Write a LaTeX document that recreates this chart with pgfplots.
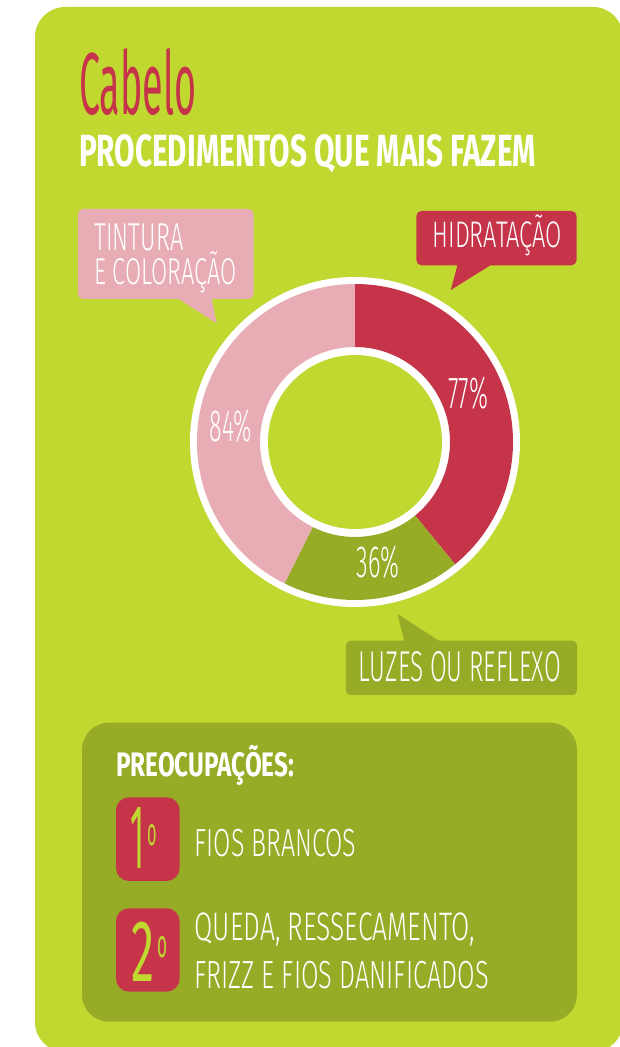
\documentclass[border=0pt]{standalone}
\usepackage{fontspec}
\setmainfont{Fira Sans}
\newfontfamily\fl{Fira Sans Light}
\usepackage{graphicx}
\usepackage{pgfplots}
\pgfplotsset{compat=1.18}
\usepackage{pgfplotstable}

\definecolor{lime}{HTML}{C0D830}
\definecolor{dgreen}{HTML}{97AB26}
\definecolor{cred}{HTML}{C6344A}
\definecolor{cpink}{HTML}{E8ADB4}

\pgfplotstableread{
label value
Hidratacao 77
Luzes 36
Tintura 84
}\donutdata

\pgfplotstablegetelem{0}{value}\of\donutdata \let\vA\pgfplotsretval
\pgfplotstablegetelem{1}{value}\of\donutdata \let\vB\pgfplotsretval
\pgfplotstablegetelem{2}{value}\of\donutdata \let\vC\pgfplotsretval
\pgfmathsetmacro\tot{\vA+\vB+\vC}
\pgfmathsetmacro\aA{90}
\pgfmathsetmacro\aB{90-(\vA/\tot)*360}
\pgfmathsetmacro\aC{\aB-(\vB/\tot)*360}
\pgfmathsetmacro\aD{\aC-(\vC/\tot)*360}

\newcommand\sector[3]{%
  \fill[#1] (axis cs:{158*cos(#2)},{158*sin(#2)}) arc[start angle=#2, end angle=#3, radius=158bp]
    -- (axis cs:{95*cos(#3)},{95*sin(#3)}) arc[start angle=#3, end angle=#2, radius=95bp] -- cycle;}

\newcommand\Tx[6]{\node[anchor=base west, inner sep=0pt, outer sep=0pt, text=#1] at (#2,1047-#3) {\resizebox{#4bp}{#5bp}{#6}};}
\newcommand\Txh[6]{\node[anchor=base west, inner sep=0pt, outer sep=0pt, text=#1] at (#2,1047-#3) {\resizebox{#4bp}{\height}{\fontsize{#5bp}{#5bp}\selectfont #6}};}

\begin{document}
\begin{tikzpicture}[x=1bp, y=1bp]
\useasboundingbox (0,0) rectangle (620,1047);
\clip (0,0) rectangle (620,1047);
\fill[white] (0,0) rectangle (620,1047);
% main panel
\fill[lime, rounded corners=30bp] (35,1047-1052) rectangle (623,1047-7);
% callouts
\fill[cpink, rounded corners=5bp] (78,1047-299) rectangle (253.5,1047-209);
\fill[cpink] (177,1047-298) -- (211.5,1047-298) -- (216.7,1047-323.3) -- cycle;
\fill[cred, rounded corners=5bp] (416.4,1047-265.3) rectangle (576.5,1047-211);
\fill[cred] (457.7,1047-264.3) -- (492,1047-264.3) -- (450.8,1047-290) -- cycle;
\fill[dgreen, rounded corners=5bp] (345.8,1047-695) rectangle (577.2,1047-640.7);
\fill[dgreen] (404.4,1047-641.7) -- (440.5,1047-641.7) -- (397.5,1047-614) -- cycle;
% bottom panel
\fill[dgreen, rounded corners=27bp] (82,1047-1021.7) rectangle (577,1047-722.7);
\fill[cred, rounded corners=13bp] (116,1047-881) rectangle (179.6,1047-797.3);
\fill[cred, rounded corners=13bp] (116,1047-991.7) rectangle (179.6,1047-908.3);

% donut
\begin{axis}[at={(355,1047-442)}, anchor=center, width=340bp, height=340bp,
  scale only axis, xmin=-170, xmax=170, ymin=-170, ymax=170, hide axis, clip=false]
\addplot[draw=none, forget plot] coordinates {(0,0)};
\fill[white] (axis cs:0,0) circle[radius=165bp];
\sector{cred}{\aA}{\aB}
\sector{dgreen}{\aB}{\aC}
\sector{cpink}{\aC}{\aD}
\fill[lime] (axis cs:0,0) circle[radius=87bp];
\end{axis}

% texts
\Tx{cred}{79}{114.3}{117}{66}{Cabelo}
\Tx{white}{79}{167}{457}{32}{\bfseries PROCEDIMENTOS QUE MAIS FAZEM}
\Tx{white}{94.4}{251}{89}{26.7}{\fl TINTURA}
\Txh{white}{94.4}{285}{142}{37.3}{\fl E COLORAÇÃO}
\Txh{white}{432.6}{248}{129.4}{37}{\fl HIDRATAÇÃO}
\Tx{white}{358.9}{681.7}{202}{30}{\fl LUZES OU REFLEXO}
\Tx{white}{448.4}{408.3}{40}{31.6}{\fl 77\%}
\Tx{white}{209.8}{441.7}{42}{31.7}{\fl 84\%}
\Tx{white}{356.8}{577.7}{43}{31.7}{\fl 36\%}
\Txh{white}{116}{776.7}{178}{34}{\bfseries PREOCUPAÇÕES:}
\Tx{lime}{130}{869}{14}{61}{1}
\Tx{lime}{147}{846}{9.5}{21}{o}
\Tx{white}{194.6}{856.7}{161.8}{27.3}{\fl FIOS BRANCOS}
\Tx{lime}{131}{981.5}{23}{59.5}{2}
\Tx{lime}{157.5}{958}{10}{21}{o}
\Tx{white}{194.6}{941}{280}{27.7}{\fl QUEDA, RESSECAMENTO,}
\Tx{white}{194.6}{988.3}{294}{27.3}{\fl FRIZZ E FIOS DANIFICADOS}
\end{tikzpicture}
\end{document}
